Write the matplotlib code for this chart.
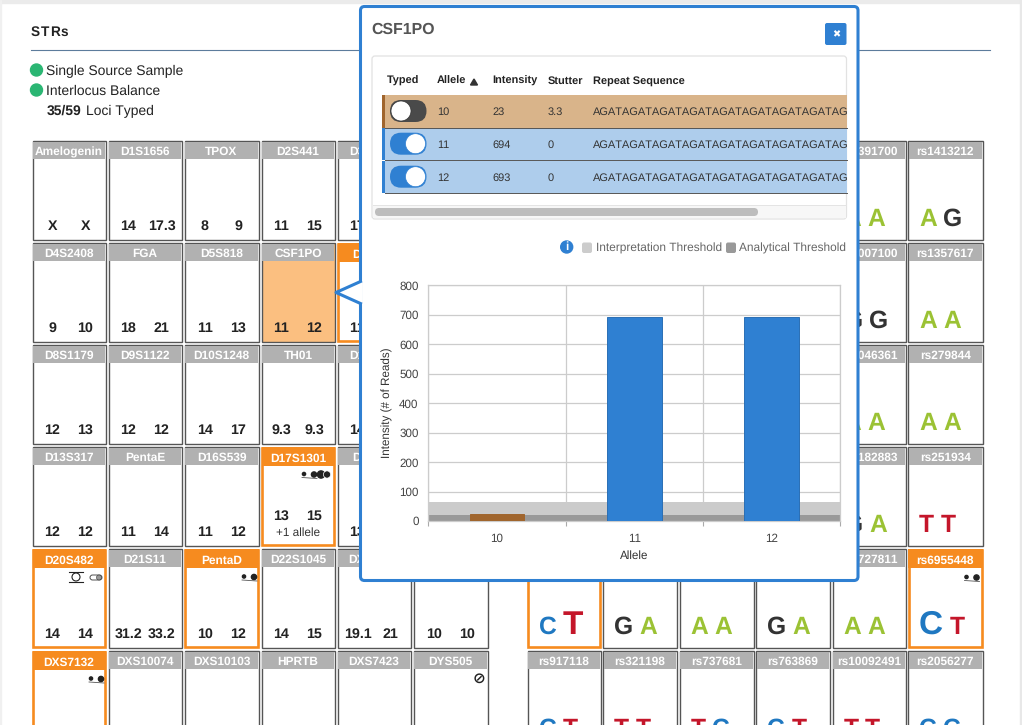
import matplotlib
matplotlib.use('Agg')
import matplotlib.pyplot as plt
from matplotlib.patches import Rectangle, Circle, FancyBboxPatch, Polygon

W, H = 1022, 725

# --- data ---
str_loci = [
    ['Amelogenin', 'D1S1656', 'TPOX', 'D2S441', 'D3S1358'],
    ['D4S2408', 'FGA', 'D5S818', 'CSF1PO', 'D7S820'],
    ['D8S1179', 'D9S1122', 'D10S1248', 'TH01', 'D12S391'],
    ['D13S317', 'PentaE', 'D16S539', 'D17S1301', 'D18S51'],
    ['D20S482', 'D21S11', 'PentaD', 'D22S1045', 'DXS8378', 'DYS391'],
    ['DXS7132', 'DXS10074', 'DXS10103', 'HPRTB', 'DXS7423', 'DYS505'],
]
str_alleles = [
    [('X', 'X'), ('14', '17.3'), ('8', '9'), ('11', '15'), ('17', '18')],
    [('9', '10'), ('18', '21'), ('11', '13'), ('11', '12'), ('11', '12')],
    [('12', '13'), ('12', '12'), ('14', '17'), ('9.3', '9.3'), ('14', '18')],
    [('12', '12'), ('11', '14'), ('11', '12'), ('13', '15'), ('13', '15')],
    [('14', '14'), ('31.2', '33.2'), ('10', '12'), ('14', '15'), ('19.1', '21'), ('10', '10')],
    [('', ''), ('', ''), ('', ''), ('', ''), ('', ''), ('', '')],
]
flagged_loci = ['D7S820', 'D17S1301', 'D20S482', 'PentaD', 'DXS7132', 'rs6955448', 'rs1736442']
selected_locus = 'CSF1PO'

snp_loci_top = [
    ['rs1391700', 'rs1413212'],
    ['rs1007100', 'rs1357617'],
    ['rs1046361', 'rs279844'],
    ['rs3182883', 'rs251934'],
]
snp_alleles_top = [
    [('A', 'A'), ('A', 'G')],
    [('G', 'G'), ('A', 'A')],
    [('A', 'A'), ('A', 'A')],
    [('G', 'A'), ('T', 'T')],
]
snp_loci_bottom = [
    ['rs1736442', 'rs1015250', 'rs1028528', 'rs1031825', 'rs1727811', 'rs6955448'],
    ['rs917118', 'rs321198', 'rs737681', 'rs763869', 'rs10092491', 'rs2056277'],
]
snp_alleles_bottom = [
    [('C', 'T'), ('G', 'A'), ('A', 'A'), ('G', 'A'), ('A', 'A'), ('C', 'T')],
    [('C', 'T'), ('T', 'T'), ('T', 'C'), ('C', 'T'), ('T', 'T'), ('C', 'C')],
]
# which letter is drawn larger
snp_big_letter = {'rs1736442': 1, 'rs6955448': 0}

table_alleles = ['10', '11', '12']
table_intensity = ['23', '694', '693']
table_stutter = ['3.3', '0', '0']
table_typed = [False, True, True]
table_sequence = 'AGAT' * 14

chart_alleles = ['10', '11', '12']
chart_reads = [23, 694, 693]
chart_typed = [False, True, True]
interpretation_threshold = 65
analytical_threshold = 20
y_ticks = [0, 100, 200, 300, 400, 500, 600, 700, 800]

# --- colours ---
ORANGE = '#f68b1f'
BLUE = '#2f80d2'
BROWN = '#a0652d'
CELL_EDGE = '#555555'
HEADER_GREY = '#b1b1b1'
LETTER_COLORS = {'A': '#9bc234', 'G': '#333333', 'C': '#1f78c1', 'T': '#c4162a'}
LETTER_WIDTHS = {'A': 0.722, 'G': 0.778, 'C': 0.722, 'T': 0.611}

plt.rcParams['font.family'] = ['Liberation Sans', 'DejaVu Sans']
# browser text has wider digit pairs than matplotlib's kerned output
plt.rcParams['text.kerning_factor'] = 6
plt.rcParams['text.hinting'] = 'no_hinting'

fig = plt.figure(figsize=(W / 100, H / 100), dpi=100, facecolor='white')
ax = fig.add_axes([0, 0, 1, 1])
ax.set_xlim(0, W)
ax.set_ylim(H, 0)
ax.axis('off')

row_tops = [141, 243, 345, 447, 549, 651]
str_lefts = [32.5, 108.5, 184.5, 261.5, 337.5, 413.5]
str_rights = [105.5, 181.5, 258.5, 334.5, 410.5, 488]
snp_lefts = [527.5, 603, 679.5, 756, 832.5, 908]
snp_rights = [600.5, 677, 753.5, 830, 905.5, 982.5]
CELL_H = 98.5


def draw_cell(name, left, right, top):
    flagged = name in flagged_loci
    edge = ORANGE if flagged else CELL_EDGE
    face = '#fbbf80' if name == selected_locus else 'white'
    inset = 0.8 if flagged else 0
    ax.add_patch(Rectangle((left + inset, top + inset), right - left - 2 * inset, CELL_H - 2 * inset,
                           facecolor=face, edgecolor=edge, linewidth=1.9 if flagged else 1.0, zorder=2.6))
    head_h = 19 if flagged else 17.5
    pad = 0 if flagged else 0.7
    ax.add_patch(Rectangle((left + pad, top + pad), right - left - 2 * pad, head_h - pad,
                           facecolor=ORANGE if flagged else HEADER_GREY, edgecolor='none', zorder=2.7))
    ax.text((left + right) / 2, top + (15 if flagged else 14), name, color='white', fontsize=8.6,
            fontweight='bold', ha='center', va='baseline', zorder=3)


def draw_linked_dots(x, y):
    ax.add_patch(Circle((x, y - 0.5), 1.6, color='#222222', zorder=3))
    ax.add_patch(Circle((x + 10, y), 2.6, color='#222222', zorder=3))
    ax.plot([x - 2, x + 13], [y + 3, y + 4], color='#555555', lw=0.6, zorder=3)


def draw_double_circle(x, y):
    ax.add_patch(Circle((x, y), 3.6, color='#222222', zorder=3))
    ax.add_patch(Circle((x + 6, y), 3.6, facecolor='#222222', edgecolor='white', lw=0.5, zorder=3))


def draw_bar_circle(x, y):
    ax.plot([x - 7, x + 7], [y - 5, y - 5], color='#222222', lw=0.8, zorder=3)
    ax.plot([x - 7, x + 7], [y + 5, y + 5], color='#222222', lw=0.8, zorder=3)
    ax.add_patch(Circle((x, y), 4, facecolor='white', edgecolor='#222222', lw=0.8, zorder=3))


def draw_capsule(x, y):
    ax.add_patch(FancyBboxPatch((x - 6, y - 2.5), 12, 5, boxstyle='round,pad=0,rounding_size=2.5',
                                facecolor='white', edgecolor='#333333', lw=0.6, zorder=3))
    ax.add_patch(Circle((x + 3, y), 2.5, facecolor='#999999', edgecolor='#333333', lw=0.4, zorder=3))


# --- page ---
ax.add_patch(Rectangle((0, 0), W, 3, color='#ebebeb', zorder=0))
ax.add_patch(Rectangle((0, 0), 1, H, color='#f0f0f0', zorder=0))
ax.add_patch(Rectangle((1020, 0), 2, H, color='#e8e8e8', zorder=0))
# heading is letter-spaced
for ch, x in zip('STRs', [31, 41, 50.5, 61]):
    ax.text(x, 35.5, ch, fontsize=9.8, fontweight='bold', color='#222222', va='baseline')
ax.plot([31, 990], [49.5, 49.5], color='#5d7c9c', lw=0.8, zorder=1)
ax.add_patch(Circle((36.5, 70), 6, color='#2bb673', zorder=2))
ax.add_patch(Circle((36.5, 90), 6, color='#2bb673', zorder=2))
ax.text(46.5, 75, 'Single Source Sample', fontsize=10, color='#222222', va='baseline')
ax.text(46.5, 95, 'Interlocus Balance', fontsize=10, color='#222222', va='baseline')
ax.text(46.5, 115, '35/59', fontsize=10, fontweight='bold', color='#222222', va='baseline')
ax.text(85.5, 115, 'Loci Typed', fontsize=10, color='#222222', va='baseline')

# --- STR grid ---
for r, (names, alleles) in enumerate(zip(str_loci, str_alleles)):
    top = row_tops[r]
    for c, name in enumerate(names):
        left, right = str_lefts[c], str_rights[c]
        draw_cell(name, left, right, top)
        mid = (left + right) / 2
        base = top + 89
        if name == 'D17S1301':
            base = top + 73
            ax.text(mid, top + 89, '+1 allele', fontsize=8.5, color='#333333', ha='center', va='baseline', zorder=3)
        for a, off in zip(alleles[c], (-16.5, 16.5)):
            ax.text(mid + off, base, a, fontsize=10.3, fontweight='bold', color='#222222',
                    ha='center', va='baseline', zorder=3)

draw_linked_dots(304, 474.5)
draw_double_circle(321, 474.5)
draw_bar_circle(76, 577)
draw_capsule(96, 577.5)
draw_linked_dots(244, 577)
draw_linked_dots(91, 679)
draw_linked_dots(966.5, 577.5)
ax.text(479, 679, '\u2298', fontsize=11, fontweight='bold', color='#222222', ha='center', va='center',
        family='DejaVu Sans', zorder=3)


# --- SNP grid ---
def draw_letters(name, left, top, letters):
    big = snp_big_letter.get(name)
    x = left + 11
    for i, ch in enumerate(letters):
        size = 24 if big == i else 17.7
        ax.text(x, top + 85, ch, fontsize=size, fontweight='bold', color=LETTER_COLORS[ch],
                ha='left', va='baseline', zorder=3)
        x += LETTER_WIDTHS[ch] * size * 100 / 72 + 6.5


for r, (names, letters) in enumerate(zip(snp_loci_top, snp_alleles_top)):
    for c, (name, pair) in enumerate(zip(names, letters)):
        draw_cell(name, snp_lefts[c + 4], snp_rights[c + 4], row_tops[r])
        draw_letters(name, snp_lefts[c + 4], row_tops[r], pair)
for r, (names, letters) in enumerate(zip(snp_loci_bottom, snp_alleles_bottom)):
    for c, (name, pair) in enumerate(zip(names, letters)):
        draw_cell(name, snp_lefts[c], snp_rights[c], row_tops[r + 4])
        draw_letters(name, snp_lefts[c], row_tops[r + 4], pair)

# --- modal ---
ax.add_patch(FancyBboxPatch((360.5, 6.5), 497.5, 574, boxstyle='round,pad=0,rounding_size=4',
                            facecolor='white', edgecolor=BLUE, linewidth=2.2, zorder=10))
ax.add_patch(Polygon([(362, 281.5), (336, 292.5), (362, 303.5)], closed=True, facecolor='white',
                     edgecolor='none', zorder=11))
ax.plot([360.5, 336, 360.5], [281.5, 292.5, 303.5], color=BLUE, lw=2.2, zorder=11)
ax.text(371, 34, 'CSF1PO', fontsize=11.4, fontweight='bold', color='#555555', va='baseline', zorder=12)

ax.add_patch(FancyBboxPatch((825, 23), 21.5, 22, boxstyle='round,pad=0,rounding_size=2',
                            facecolor=BLUE, edgecolor='none', zorder=12))
ax.text(835.8, 34.2, '\u2716', fontsize=7, color='white', ha='center', va='center',
        family='DejaVu Sans', zorder=13)

# table panel
ax.add_patch(FancyBboxPatch((372, 56), 474.5, 163, boxstyle='round,pad=0,rounding_size=3',
                            facecolor='white', edgecolor='#e2e2e2', linewidth=0.9, zorder=12))
for label, x in zip(['Typed', 'Allele', 'Intensity', 'Stutter', 'Repeat Sequence'],
                    [387, 437, 492, 547.5, 593]):
    ax.text(x, 84, label, fontsize=7.9, fontweight='bold', color='#222222', va='baseline', zorder=13)
ax.add_patch(Polygon([(470.5, 85), (477.5, 85), (474, 79)], closed=True, color='#333333', zorder=13))

row_y = [95, 127.7, 160.7]
seq_clip = Rectangle((590, 90), 256.5, 110, transform=ax.transData)
for i, top in enumerate(row_y):
    typed = table_typed[i]
    ax.add_patch(Rectangle((382, top), 464.5, 32.5, facecolor='#aecdec' if typed else '#d9b48a',
                           edgecolor='none', zorder=13))
    ax.add_patch(Rectangle((382, top), 3, 32.5, facecolor=BLUE if typed else BROWN, edgecolor='none', zorder=13.2))
    ax.plot([385, 846.5], [top + 32.5, top + 32.5], color='#555555', lw=0.7, zorder=13.2)
    mid = top + 16
    ax.add_patch(FancyBboxPatch((390, mid - 11), 36.5, 22, boxstyle='round,pad=0,rounding_size=11',
                                facecolor=BLUE if typed else '#4a4a4a', edgecolor='none', zorder=13.4))
    knob_x = 415.5 if typed else 401
    ax.add_patch(Circle((knob_x, mid), 10, facecolor='white', edgecolor=BLUE if typed else '#333333',
                        lw=0.5, zorder=13.6))
    for val, x in zip([table_alleles[i], table_intensity[i], table_stutter[i]], [437, 492, 547.5]):
        ax.text(x, top + 20, val, fontsize=7.9, color='#333333', va='baseline', zorder=13.6)
    seq = ax.text(593, top + 20, table_sequence, fontsize=7.9, color='#333333', va='baseline', zorder=13.6)
    seq.set_clip_on(True)
    seq.set_clip_path(seq_clip)

# scrollbar
ax.add_patch(Rectangle((373, 205), 473, 13, facecolor='#f7f7f7', edgecolor='none', zorder=13))
ax.plot([373, 846], [204.5, 204.5], color='#e4e4e4', lw=0.7, zorder=13)
ax.add_patch(FancyBboxPatch((375, 208), 383, 8, boxstyle='round,pad=0,rounding_size=4',
                            facecolor='#bdbdbd', edgecolor='none', zorder=13.2))

# threshold legend
ax.add_patch(Circle((566.7, 247), 6, color=BLUE, zorder=12))
ax.text(566.7, 247.3, 'i', fontsize=8.5, fontweight='bold', color='white', ha='center', va='center', zorder=13)
ax.add_patch(FancyBboxPatch((582, 242.5), 10, 10.5, boxstyle='round,pad=0,rounding_size=2',
                            facecolor='#cccccc', edgecolor='none', zorder=12))
ax.text(595.5, 252, 'Interpretation Threshold', fontsize=8.6, color='#666666', va='baseline', zorder=12)
ax.add_patch(FancyBboxPatch((726, 242.5), 10, 10.5, boxstyle='round,pad=0,rounding_size=2',
                            facecolor='#999999', edgecolor='none', zorder=12))
ax.text(739, 252, 'Analytical Threshold', fontsize=8.6, color='#666666', va='baseline', zorder=12)

# --- bar chart ---
pl, pr, pt, pb = 428.3, 840.3, 285.3, 521
chart = fig.add_axes([pl / W, 1 - pb / H, (pr - pl) / W, (pb - pt) / H], zorder=5)
chart.set_xlim(-0.5, 2.5)
chart.set_ylim(0, 800)
chart.axhspan(0, interpretation_threshold, color='#cbcbcb', lw=0, zorder=2)
chart.axhspan(0, analytical_threshold, color='#999999', lw=0, zorder=2.1)
bar_colors = [BLUE if t else BROWN for t in chart_typed]
bar_edges = ['#2a6fb5' if t else BROWN for t in chart_typed]
chart.bar(range(3), chart_reads, width=0.4, color=bar_colors, edgecolor=bar_edges, linewidth=0.7, zorder=3)

chart.set_yticks(y_ticks)
chart.set_xticks(range(3))
chart.set_xticklabels(chart_alleles)
chart.set_xticks([-0.5, 0.5, 1.5, 2.5], minor=True)
chart.tick_params(axis='x', which='major', length=0, pad=8.5, labelsize=8.4, labelcolor='#444444')
chart.tick_params(axis='x', which='minor', length=3.5, width=0.8, color='#aaaaaa')
chart.tick_params(axis='y', length=0, pad=7, labelsize=8.4, labelcolor='#444444')
chart.grid(True, axis='y', color='#cccccc', linewidth=0.9, zorder=1)
chart.grid(True, axis='x', which='minor', color='#cccccc', linewidth=0.9, zorder=1)
chart.set_axisbelow(True)
for spine in chart.spines.values():
    spine.set_color('#cccccc')
    spine.set_linewidth(0.9)
chart.set_xlabel('Allele', fontsize=8.4, color='#333333')
chart.xaxis.set_label_coords(0.5, -(555.7 - pb) / (pb - pt), transform=chart.transAxes)
chart.xaxis.label.set_va('center')
chart.set_ylabel('Intensity (# of Reads)', fontsize=8.4, color='#333333')
chart.yaxis.set_label_coords(-(pl - 387) / (pr - pl), 0.5 - (402.7 - (pt + pb) / 2) / (pb - pt), transform=chart.transAxes)
chart.yaxis.label.set_va('center')

fig.savefig('out.png', dpi=100, facecolor='white')
plt.close(fig)
